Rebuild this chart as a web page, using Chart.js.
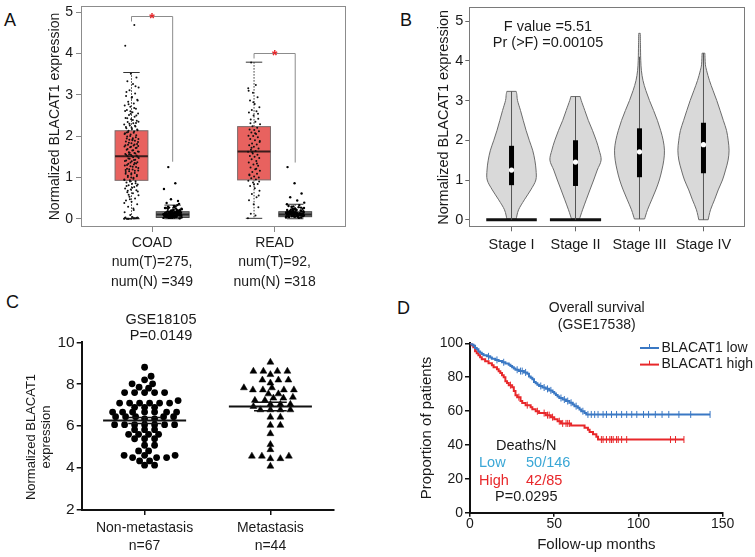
<!DOCTYPE html>
<html>
<head>
<meta charset="utf-8">
<title>BLACAT1 expression</title>
<script src="https://cdn.jsdelivr.net/npm/chart.js@4.4.1/dist/chart.umd.min.js"></script>
<style>
  html, body { margin: 0; padding: 0; background: #fff; }
  body { position: relative; width: 755px; height: 557px; overflow: hidden; font-family: "Liberation Sans", Arial, sans-serif; }
  canvas { position: absolute; }
  .panel { position: absolute; font-size: 18px; line-height: 1; color: #111; }
</style>
</head>
<body>
<div class="panel" style="left:4px;top:11px">A</div>
<div class="panel" style="left:400px;top:11px">B</div>
<div class="panel" style="left:6px;top:293px">C</div>
<div class="panel" style="left:397px;top:299px">D</div>
<canvas id="chartA" width="370" height="300" style="left:0;top:0"></canvas>
<canvas id="chartB" width="375" height="300" style="left:380px;top:0"></canvas>
<canvas id="chartC" width="370" height="277" style="left:0;top:280px"></canvas>
<canvas id="chartD" width="375" height="277" style="left:380px;top:280px"></canvas>
<script>
Chart.defaults.font.family = '"Liberation Sans", Arial, Helvetica, sans-serif';
Chart.defaults.color = '#1a1a1a';
var FONT = '"Liberation Sans", Arial, Helvetica, sans-serif';

// ---------- A: tumour vs normal (GEPIA) ----------
var cancersA = ['COAD', 'READ'];
var numT = [275, 92];
var numN = [349, 318];
var tumorLo = [0.0, 0.01];
var tumorQ1 = [0.93, 0.94];
var tumorMed = [1.51, 1.63];
var tumorQ3 = [2.13, 2.23];
var tumorHi = [3.54, 3.79];
var normalLo = [0.0, 0.0];
var normalQ1 = [0.03, 0.05];
var normalMed = [0.1, 0.1];
var normalQ3 = [0.17, 0.17];
var normalHi = [0.33, 0.35];
var bracketTop = [4.92, 4.02];
var bracketEnd = [1.38, 1.36];

var coadTumor = [0.00, 0.01, 0.00, 0.02, 0.00, 0.03, 0.01, 0.00, 0.02, 0.04, 0.00, 0.01,
  0.09, 0.16, 0.21, 0.29, 0.35, 0.41, 0.44, 0.49,
  0.53, 0.57, 0.62, 0.64, 0.69, 0.71, 0.73, 0.77, 0.81, 0.83, 0.85, 0.88, 0.91, 0.93, 0.95, 0.97,
  1.01, 1.03, 1.07, 1.09, 1.11, 1.15, 1.17, 1.19, 1.21, 1.25, 1.27, 1.29, 1.31, 1.33, 1.37, 1.39, 1.41, 1.43, 1.45, 1.47, 1.49,
  1.51, 1.53, 1.55, 1.57, 1.59, 1.61, 1.63, 1.65, 1.67, 1.71, 1.73, 1.75, 1.77, 1.79, 1.81, 1.83, 1.87, 1.89, 1.91, 1.93, 1.95, 1.99,
  2.02, 2.04, 2.07, 2.11, 2.13, 2.14, 2.17, 2.19, 2.23, 2.26, 2.28, 2.31, 2.34, 2.37, 2.41, 2.44, 2.47,
  2.51, 2.55, 2.58, 2.63, 2.66, 2.71, 2.74, 2.79, 2.83, 2.88, 2.93, 2.97,
  3.03, 3.11, 3.18, 3.26, 3.33, 3.42, 3.51, 4.19, 4.69,
  0.58, 0.66, 0.75, 0.79, 0.86, 0.9, 0.94, 0.99, 1.04, 1.06, 1.1, 1.13, 1.16, 1.2, 1.23, 1.26, 1.3, 1.34, 1.36, 1.4,
  1.42, 1.46, 1.5, 1.52, 1.54, 1.58, 1.6, 1.62, 1.66, 1.69, 1.72, 1.74, 1.78, 1.8, 1.84, 1.86, 1.9, 1.94, 1.97, 2.0,
  2.05, 2.08, 2.1, 2.16, 2.2, 2.22, 2.25, 2.3, 2.35, 2.39, 2.43, 2.5, 2.54, 2.61, 2.68, 2.77, 2.86, 2.95, 3.07, 3.21,
  0.47, 0.38, 0.25, 0.68, 0.8, 1.0, 1.18, 1.35, 1.56, 1.76, 1.92, 2.09, 2.32, 2.6, 0.02, 0.01, 0.0, 0.03];
var coadNormal = [0.02, 0.05, 0.08, 0.11, 0.03, 0.14, 0.06, 0.17, 0.09, 0.12, 0.04, 0.19, 0.07, 0.1, 0.15, 0.13, 0.21, 0.05,
  0.08, 0.16, 0.11, 0.24, 0.03, 0.09, 0.13, 0.18, 0.06, 0.12, 0.27, 0.1, 0.07, 0.15, 0.2, 0.04, 0.11, 0.14, 0.29, 0.08,
  0.17, 0.05, 0.22, 0.12, 0.09, 0.31, 0.06, 0.16, 0.13, 0.1, 0.25, 0.02, 0.19, 0.07, 0.14, 0.33, 0.11, 0.23, 0.08, 0.18,
  0.36, 0.12, 0.26, 0.04, 0.15, 0.09, 0.21, 0.38, 0.43, 0.47, 0.72, 0.86, 1.25,
  0.01, 0.06, 0.1, 0.13, 0.02, 0.07, 0.16, 0.04, 0.11, 0.19, 0.08, 0.14, 0.03, 0.12, 0.22, 0.05, 0.09, 0.17, 0.11,
  0.06, 0.24, 0.13, 0.02, 0.1, 0.18, 0.07, 0.15, 0.28, 0.04, 0.12, 0.2, 0.09, 0.3, 0.05, 0.14, 0.08, 0.26, 0.11, 0.16, 0.03];
var readTumor = [0.01, 0.08, 0.12, 0.28, 0.35, 0.45, 0.52, 0.6, 0.68, 0.74, 0.79, 0.84, 0.88, 0.92, 0.95, 0.98, 1.0, 1.02,
  1.05, 1.09, 1.13, 1.16, 1.2, 1.24, 1.28, 1.31, 1.36, 1.4, 1.44, 1.47, 1.5, 1.52, 1.55, 1.58, 1.62, 1.64, 1.67, 1.7,
  1.74, 1.78, 1.8, 1.82, 1.86, 1.9, 1.93, 1.97, 2.0, 2.01, 2.05, 2.09, 2.12, 2.15, 2.16, 2.2, 2.24, 2.29, 2.35, 2.4,
  2.42, 2.5, 2.57, 2.6, 2.63, 2.7, 2.78, 2.86, 2.94, 3.05, 3.16, 3.24, 3.78,
  0.56, 0.83, 1.07, 1.34, 1.61, 1.88, 2.07, 2.31, 2.54, 2.82, 3.1, 1.21, 1.72, 0.9];
var readNormal = [0.03, 0.07, 0.1, 0.13, 0.05, 0.16, 0.09, 0.12, 0.18, 0.06, 0.11, 0.2, 0.08, 0.14, 0.04, 0.17, 0.1, 0.23,
  0.07, 0.13, 0.15, 0.26, 0.09, 0.12, 0.19, 0.05, 0.11, 0.28, 0.14, 0.08, 0.22, 0.16, 0.1, 0.3, 0.06, 0.13, 0.18, 0.09,
  0.25, 0.12, 0.33, 0.07, 0.15, 0.21, 0.11, 0.27, 0.14, 0.35, 0.08, 0.17, 0.24, 0.1, 0.31, 0.13, 0.2, 0.39, 0.44, 0.52,
  0.61, 0.86, 1.25,
  0.02, 0.06, 0.11, 0.15, 0.04, 0.09, 0.19, 0.13, 0.07, 0.22, 0.1, 0.16, 0.05, 0.12, 0.25, 0.08, 0.14, 0.18, 0.03,
  0.11, 0.21, 0.09, 0.29, 0.06, 0.13, 0.17, 0.1, 0.23, 0.15, 0.08];

// ---------- B: stage violins ----------
var stages = ['Stage I', 'Stage II', 'Stage III', 'Stage IV'];
var stageQ1 = [0.87, 0.85, 1.07, 1.17];
var stageMed = [1.25, 1.45, 1.71, 1.89];
var stageQ3 = [1.86, 2.0, 2.3, 2.44];
var stageMin = [0, 0, 0.02, 0];
var stageMax = [3.23, 3.1, 4.1, 4.19];
var zeroSpike = [0.395, 0.4, 0, 0];
var violinY1 = [0.02, 0.25, 0.5, 0.75, 1.0, 1.25, 1.5, 1.75, 2.0, 2.25, 2.5, 2.75, 3.0, 3.15, 3.23];
var violinW1 = [0.073, 0.11, 0.2, 0.3, 0.38, 0.383, 0.364, 0.33, 0.277, 0.227, 0.183, 0.14, 0.094, 0.083, 0.073];
var violinY2 = [0.02, 0.25, 0.5, 0.75, 1.0, 1.25, 1.5, 1.75, 2.0, 2.25, 2.5, 2.75, 3.0, 3.1];
var violinW2 = [0.0625, 0.11, 0.167, 0.225, 0.284, 0.34, 0.4, 0.37, 0.323, 0.265, 0.2, 0.145, 0.09, 0.073];
var violinY3 = [0.02, 0.25, 0.5, 0.75, 1.0, 1.25, 1.5, 1.75, 2.0, 2.25, 2.5, 2.75, 3.0, 3.25, 3.5, 3.75, 4.0, 4.3, 4.69];
var violinW3 = [0.08, 0.125, 0.19, 0.255, 0.31, 0.35, 0.38, 0.39, 0.37, 0.33, 0.28, 0.22, 0.156, 0.1, 0.055, 0.03, 0.02, 0.016, 0.012];
var violinY4 = [0.0, 0.25, 0.5, 0.75, 1.0, 1.25, 1.5, 1.75, 2.0, 2.25, 2.5, 2.75, 3.0, 3.25, 3.5, 3.75, 3.9, 4.05, 4.19];
var violinW4 = [0.073, 0.11, 0.172, 0.23, 0.297, 0.345, 0.385, 0.4, 0.386, 0.36, 0.31, 0.26, 0.208, 0.15, 0.094, 0.05, 0.03, 0.025, 0.022];

// ---------- C: metastasis scatter ----------
var groupsC = ['Non-metastasis', 'Metastasis'];
var nonMet = [8.81, 8.38, 8.21, 8.02, 8.02, 7.86, 7.81, 7.6, 7.6, 7.6, 7.6, 7.6, 7.22,
  7.1, 7.1, 7.1, 7.1, 7.1, 7.1, 6.9, 6.9, 6.9, 6.67, 6.67, 6.67, 6.67, 6.67, 6.67, 6.67,
  6.45, 6.45, 6.45, 6.45, 6.45, 6.35, 6.35, 6.07, 6.07, 6.07, 6.07, 6.07, 6.07, 6.07,
  5.83, 5.83, 5.83, 5.61, 5.61, 5.61, 5.61, 5.4, 5.4, 5.4, 5.09, 5.09, 4.82, 4.82,
  4.61, 4.61, 4.61, 4.5, 4.5, 4.5, 4.34, 4.34, 4.14, 4.14];
var met = [9.05, 8.62, 8.62, 8.62, 8.62, 8.46, 8.2, 8.2, 8.2, 8.06, 7.83, 7.83, 7.73, 7.73, 7.73, 7.73,
  7.54, 7.54, 7.38, 7.34, 7.34, 7.23, 7.23, 7.04, 7.04, 7.04, 6.94, 6.78, 6.78, 6.78, 6.78,
  6.43, 6.43, 6.04, 6.04, 5.64, 5.12, 4.88, 4.57, 4.57, 4.57, 4.45, 4.45, 4.09];

// ---------- D: Kaplan-Meier ----------
var lowT = [0, 1, 2, 3, 4, 5, 6, 7, 8, 10, 12, 13, 15, 17, 19, 21, 23, 24, 25, 26, 27, 29, 32, 34, 35, 36, 37, 38, 39,
  40, 41, 43, 45, 47, 49, 50, 51, 52, 53, 55, 57, 59, 61, 62, 64, 65, 66, 68, 69, 142.5];
var lowS = [100, 99.3, 98.6, 97.2, 96.5, 95.1, 94.4, 93.7, 93.0, 92.3, 91.6, 90.9, 90.2, 89.5, 88.8, 88.1, 87.3, 86.6,
  85.9, 85.1, 84.4, 83.6, 82.8, 82.0, 80.4, 79.6, 78.8, 77.2, 76.4, 75.6, 74.8, 73.9, 73.1, 72.2, 71.3, 70.4, 69.5,
  68.6, 67.7, 66.8, 65.9, 64.9, 63.9, 62.9, 61.9, 60.9, 59.9, 58.9, 58.0, 58.0];
var highT = [0, 1, 2, 3, 4, 5, 6, 7, 9, 11, 13, 14, 16, 17, 18, 19, 20, 21, 22, 23, 25, 26, 27, 28, 30, 31, 33, 36, 37,
  39, 41, 45, 48, 50, 52, 54, 60, 68, 70, 71, 73, 75, 76, 127];
var highS = [100, 98.8, 97.6, 95.3, 94.1, 92.9, 91.8, 90.6, 89.4, 88.2, 87.1, 85.9, 84.7, 83.5, 82.4, 81.2, 80.0, 77.6,
  76.5, 75.3, 74.1, 71.8, 69.4, 68.2, 65.9, 64.7, 63.5, 62.3, 61.1, 59.9, 58.8, 57.6, 56.4, 55.2, 54.0, 52.7, 51.5,
  50.2, 48.9, 47.6, 46.3, 44.9, 43.2, 43.2];
var lowCensor = [11, 16, 20, 28, 30, 31, 33, 42, 44, 46, 48, 54, 56, 58, 60, 63, 67, 70, 72, 74, 76, 79, 81, 84, 87,
  90, 93, 96, 99, 103, 106, 110, 114, 118, 124, 131, 142.5];
var highCensor = [24, 29, 34, 40, 44, 46, 47, 49, 53, 55, 57, 58, 59, 78, 79, 81, 83, 84, 85, 87, 88, 90, 93, 119, 122, 127];

// ---------- helpers ----------
function fixY(w) { return function (s) { s.width = w; s.paddingTop = 0; s.paddingBottom = 0; }; }
function fixX(h) { return function (s) { s.height = h; s.paddingLeft = 0; s.paddingRight = 0; }; }
function seg(ctx, x1, y1, x2, y2) { ctx.beginPath(); ctx.moveTo(x1, y1); ctx.lineTo(x2, y2); ctx.stroke(); }

function frame(color) {
  return {
    id: 'frame',
    afterDraw: function (chart) {
      var a = chart.chartArea, ctx = chart.ctx;
      ctx.save();
      ctx.strokeStyle = color;
      ctx.lineWidth = 1;
      ctx.strokeRect(Math.round(a.left) + 0.5, Math.round(a.top) + 0.5, Math.round(a.width) - 1, Math.round(a.height) - 1);
      ctx.restore();
    }
  };
}

function notes(items) {
  return {
    id: 'notes',
    afterDraw: function (chart) {
      var ctx = chart.ctx;
      items.forEach(function (t) {
        ctx.save();
        ctx.font = (t.size || 14) + 'px ' + FONT;
        ctx.fillStyle = t.color || '#1a1a1a';
        ctx.textAlign = t.align || 'center';
        ctx.textBaseline = 'middle';
        ctx.translate(t.x, t.y);
        if (t.rot) ctx.rotate(t.rot);
        ctx.fillText(t.text, 0, 0);
        ctx.restore();
      });
    }
  };
}

// spread the dots sideways so the cloud is visible
function jitter(vals, centre, spread) {
  return vals.map(function (v, i) {
    var f = (i * 0.6180339887) % 1;
    return { x: centre + (f - 0.5) * 2 * spread, y: v };
  });
}

// simple beeswarm: nearest free horizontal slot in pixels
function swarm(vals, centre, pxX, pxY, minDist) {
  var placed = [];
  var order = vals.map(function (v, i) { return i; }).sort(function (a, b) { return vals[a] - vals[b]; });
  var out = [];
  order.forEach(function (i) {
    var yp = vals[i] * pxY, xp = 0;
    for (var k = 0; k < 400; k++) {
      var off = (k % 2 ? 1 : -1) * Math.ceil(k / 2) * 0.5;
      var ok = placed.every(function (p) {
        var dx = p[0] - off, dy = (p[1] - yp) * 2;
        return dx * dx + dy * dy >= minDist * minDist;
      });
      if (ok) { xp = off; break; }
    }
    placed.push([xp, yp]);
    out.push({ x: centre + xp / pxX, y: vals[i] });
  });
  return out;
}

function survAt(times, surv, t) {
  var s = surv[0];
  for (var i = 0; i < times.length; i++) { if (times[i] <= t) s = surv[i]; }
  return s;
}

function smoothThrough(ctx, pts) {
  for (var i = 0; i < pts.length - 1; i++) {
    var p0 = pts[i - 1] || pts[i], p1 = pts[i], p2 = pts[i + 1], p3 = pts[i + 2] || p2;
    ctx.bezierCurveTo(p1[0] + (p2[0] - p0[0]) / 6, p1[1] + (p2[1] - p0[1]) / 6,
      p2[0] - (p3[0] - p1[0]) / 6, p2[1] - (p3[1] - p1[1]) / 6, p2[0], p2[1]);
  }
}

// ---------- chart A ----------
var SHIFT = 0.168, HALF = 0.134;

function drawBox(ctx, x, y, c, stats, fill, stroke, medColor) {
  var l = x.getPixelForValue(c - HALF), r = x.getPixelForValue(c + HALF), m = x.getPixelForValue(c);
  var cl = x.getPixelForValue(c - HALF / 2), cr = x.getPixelForValue(c + HALF / 2);
  var p = stats.map(function (v) { return y.getPixelForValue(v); });
  ctx.save();
  ctx.strokeStyle = '#333';
  ctx.lineWidth = 1;
  ctx.setLineDash([1.5, 1.5]);
  seg(ctx, m, p[3], m, p[4]);
  seg(ctx, m, p[1], m, p[0]);
  ctx.setLineDash([]);
  seg(ctx, cl, p[4], cr, p[4]);
  seg(ctx, cl, p[0], cr, p[0]);
  ctx.fillStyle = fill;
  ctx.fillRect(l, p[3], r - l, p[1] - p[3]);
  ctx.strokeStyle = stroke;
  ctx.strokeRect(l, p[3], r - l, p[1] - p[3]);
  ctx.strokeStyle = medColor;
  ctx.lineWidth = 2;
  seg(ctx, l, p[2], r, p[2]);
  ctx.restore();
}

var boxesA = {
  id: 'boxesA',
  beforeDatasetsDraw: function (chart) {
    var ctx = chart.ctx, x = chart.scales.x, y = chart.scales.y;
    cancersA.forEach(function (c, i) {
      drawBox(ctx, x, y, i + 1 - SHIFT, [tumorLo[i], tumorQ1[i], tumorMed[i], tumorQ3[i], tumorHi[i]], '#e8625f', '#7b6a6a', '#3b1c1c');
      drawBox(ctx, x, y, i + 1 + SHIFT, [normalLo[i], normalQ1[i], normalMed[i], normalQ3[i], normalHi[i]], '#7a7a7a', '#474747', '#2a2a2a');
    });
  },
  afterDatasetsDraw: function (chart) {
    var ctx = chart.ctx, x = chart.scales.x, y = chart.scales.y;
    cancersA.forEach(function (c, i) {
      var xl = x.getPixelForValue(i + 1 - SHIFT), xr = x.getPixelForValue(i + 1 + SHIFT);
      var yt = Math.round(y.getPixelForValue(bracketTop[i])) + 0.5, yb = y.getPixelForValue(bracketEnd[i]);
      ctx.save();
      ctx.strokeStyle = '#8c8c8c';
      ctx.lineWidth = 1;
      ctx.beginPath();
      ctx.moveTo(xl, yt + 5); ctx.lineTo(xl, yt); ctx.lineTo(xr, yt); ctx.lineTo(xr, yb);
      ctx.stroke();
      ctx.fillStyle = '#e8262a';
      ctx.font = 'bold 14px ' + FONT;
      ctx.textAlign = 'center';
      ctx.textBaseline = 'middle';
      ctx.fillText('*', (xl + xr) / 2, yt + 3);
      ctx.restore();
    });
  }
};

var dotT = { pointRadius: 1, pointBackgroundColor: '#111', pointBorderWidth: 0 };
var dotN = { pointRadius: 1.2, pointBackgroundColor: '#000', pointBorderWidth: 0 };
new Chart(document.getElementById('chartA'), {
  type: 'scatter',
  data: {
    datasets: [
      Object.assign({ label: 'COAD tumour', data: jitter(coadTumor, 1 - SHIFT, 0.06) }, dotT),
      Object.assign({ label: 'COAD normal', data: jitter(coadNormal, 1 + SHIFT, 0.075) }, dotN),
      Object.assign({ label: 'READ tumour', data: jitter(readTumor, 2 - SHIFT, 0.05) }, dotT),
      Object.assign({ label: 'READ normal', data: jitter(readNormal, 2 + SHIFT, 0.075) }, dotN)
    ]
  },
  options: {
    responsive: false,
    animation: false,
    layout: { padding: { left: 47, top: 6, right: 24.3, bottom: 0 } },
    plugins: { legend: { display: false }, tooltip: { enabled: false } },
    scales: {
      x: {
        type: 'linear', min: 0.42, max: 2.58,
        afterBuildTicks: function (s) { s.ticks = cancersA.map(function (c, i) { return { value: i + 1 }; }); },
        ticks: {
          autoSkip: false, maxRotation: 0, padding: 1,
          font: { size: 14, lineHeight: 1.4 },
          callback: function (v, i) { return [cancersA[i], 'num(T)=' + numT[i] + ',', 'num(N) =' + numN[i]]; }
        },
        grid: { drawOnChartArea: false, tickLength: 5, tickColor: '#888' },
        border: { display: false },
        afterFit: fixX(73)
      },
      y: {
        min: -0.2, max: 5.15,
        ticks: { stepSize: 1, includeBounds: false, padding: 3, font: { size: 14 } },
        grid: { drawOnChartArea: false, tickLength: 5, tickColor: '#888' },
        border: { display: false },
        title: { display: true, text: 'Normalized BLACAT1 expression', font: { size: 14 }, padding: { top: 0, bottom: 0 } },
        afterFit: fixY(34)
      }
    }
  },
  plugins: [boxesA, frame('#8c8c8c')]
});

// ---------- chart B ----------
var violinYs = [violinY1, violinY2, violinY3, violinY4];
var violinWs = [violinW1, violinW2, violinW3, violinW4];

var violinsB = {
  id: 'violinsB',
  beforeDatasetsDraw: function (chart) {
    var ctx = chart.ctx, x = chart.scales.x, y = chart.scales.y;
    stages.forEach(function (s, i) {
      var c = i + 1, lv = violinYs[i], wd = violinWs[i];
      var right = lv.map(function (v, k) { return [x.getPixelForValue(c + wd[k]), y.getPixelForValue(v)]; });
      var left = lv.map(function (v, k) { return [x.getPixelForValue(c - wd[k]), y.getPixelForValue(v)]; }).reverse();
      ctx.save();
      ctx.beginPath();
      ctx.moveTo(left[left.length - 1][0], left[left.length - 1][1]);
      ctx.lineTo(right[0][0], right[0][1]);
      smoothThrough(ctx, right);
      ctx.lineTo(left[0][0], left[0][1]);
      smoothThrough(ctx, left);
      ctx.closePath();
      ctx.fillStyle = '#d9d9d9';
      ctx.fill();
      ctx.strokeStyle = '#6b6b6b';
      ctx.lineWidth = 1;
      ctx.stroke();
      var cx = x.getPixelForValue(c);
      if (zeroSpike[i] > 0) {
        ctx.strokeStyle = '#111';
        ctx.lineWidth = 3;
        seg(ctx, x.getPixelForValue(c - zeroSpike[i]), y.getPixelForValue(0), x.getPixelForValue(c + zeroSpike[i]), y.getPixelForValue(0));
      }
      ctx.strokeStyle = '#555';
      ctx.lineWidth = 1;
      seg(ctx, cx, y.getPixelForValue(stageMin[i]), cx, y.getPixelForValue(stageMax[i]));
      ctx.fillStyle = '#000';
      var top = y.getPixelForValue(stageQ3[i]), bot = y.getPixelForValue(stageQ1[i]);
      ctx.fillRect(cx - 2.5, top, 5, bot - top);
      ctx.restore();
    });
  }
};

new Chart(document.getElementById('chartB'), {
  type: 'scatter',
  data: {
    datasets: [{
      label: 'median',
      data: stages.map(function (s, i) { return { x: i + 1, y: stageMed[i] }; }),
      pointRadius: 2.6, pointBackgroundColor: '#fff', pointBorderWidth: 0
    }]
  },
  options: {
    responsive: false,
    animation: false,
    layout: { padding: { left: 55.3, top: 7.3, right: 9.3, bottom: 0 } },
    plugins: { legend: { display: false }, tooltip: { enabled: false } },
    scales: {
      x: {
        type: 'linear', min: 0.34, max: 4.66,
        afterBuildTicks: function (s) { s.ticks = stages.map(function (c, i) { return { value: i + 1 }; }); },
        ticks: { autoSkip: false, maxRotation: 0, padding: 5, font: { size: 14.5 },
          callback: function (v, i) { return stages[i]; } },
        grid: { drawOnChartArea: false, tickLength: 4, tickColor: '#666' },
        border: { display: false },
        afterFit: fixX(72.7)
      },
      y: {
        min: -0.19, max: 5.345,
        ticks: { stepSize: 1, includeBounds: false, padding: 2, font: { size: 14.5 } },
        grid: { drawOnChartArea: false, tickLength: 4, tickColor: '#666' },
        border: { display: false },
        title: { display: true, text: 'Normalized BLACAT1 expression', font: { size: 14.5 }, padding: { top: 0, bottom: 0 } },
        afterFit: fixY(34)
      }
    }
  },
  plugins: [violinsB, frame('#7a7a7a'), notes([
    { text: 'F value =5.51', x: 168, y: 27, size: 14.5 },
    { text: 'Pr (>F) =0.00105', x: 168, y: 43, size: 14.5 }
  ])]
});

// ---------- chart C ----------
var PX_X = 251.6 / 2, PX_Y = 167.7 / 8;

function meanSem(v) {
  var m = v.reduce(function (a, b) { return a + b; }, 0) / v.length;
  var sd = Math.sqrt(v.reduce(function (a, b) { return a + (b - m) * (b - m); }, 0) / (v.length - 1));
  return [m, sd / Math.sqrt(v.length)];
}

var meanC = {
  id: 'meanC',
  afterDatasetsDraw: function (chart) {
    var ctx = chart.ctx, x = chart.scales.x, y = chart.scales.y;
    [nonMet, met].forEach(function (v, i) {
      var ms = meanSem(v);
      ctx.save();
      ctx.strokeStyle = '#111';
      ctx.lineWidth = 2;
      seg(ctx, x.getPixelForValue(i - 0.33), y.getPixelForValue(ms[0]), x.getPixelForValue(i + 0.33), y.getPixelForValue(ms[0]));
      ctx.lineWidth = 1.5;
      [ms[0] - ms[1], ms[0] + ms[1]].forEach(function (e) {
        seg(ctx, x.getPixelForValue(i - 0.13), y.getPixelForValue(e), x.getPixelForValue(i + 0.13), y.getPixelForValue(e));
      });
      seg(ctx, x.getPixelForValue(i), y.getPixelForValue(ms[0] - ms[1]), x.getPixelForValue(i), y.getPixelForValue(ms[0] + ms[1]));
      ctx.restore();
    });
  }
};

new Chart(document.getElementById('chartC'), {
  type: 'scatter',
  data: {
    datasets: [
      { label: groupsC[0], data: swarm(nonMet, 0, PX_X, PX_Y, 9.6), pointStyle: 'circle', pointRadius: 3.4,
        pointBackgroundColor: '#000', pointBorderWidth: 0 },
      { label: groupsC[1], data: swarm(met, 1, PX_X, PX_Y, 9.6), pointStyle: 'triangle', pointRadius: 4,
        pointBackgroundColor: '#000', pointBorderColor: '#000', pointBorderWidth: 0.5 }
    ]
  },
  options: {
    responsive: false,
    animation: false,
    layout: { padding: { left: 23.2, top: 62.3, right: 36.7, bottom: 0 } },
    plugins: { legend: { display: false }, tooltip: { enabled: false } },
    scales: {
      x: {
        type: 'linear', min: -0.5, max: 1.5,
        afterBuildTicks: function (s) { s.ticks = groupsC.map(function (c, i) { return { value: i }; }); },
        ticks: { autoSkip: false, maxRotation: 0, padding: 4, font: { size: 14, lineHeight: 1.3 },
          callback: function (v, i) { return [groupsC[i], 'n=' + [nonMet, met][i].length]; } },
        grid: { drawOnChartArea: false, tickLength: 5, tickColor: '#111', lineWidth: 1.5 },
        border: { display: true, color: '#111', width: 2 },
        afterFit: fixX(47)
      },
      y: {
        min: 2, max: 10,
        ticks: { stepSize: 2, padding: 2, font: { size: 15.5 } },
        grid: { drawOnChartArea: false, tickLength: 5, tickColor: '#111', lineWidth: 1.5 },
        border: { display: true, color: '#111', width: 2 },
        afterFit: fixY(58.5)
      }
    }
  },
  plugins: [meanC, notes([
    { text: 'GSE18105', x: 161, y: 40, size: 14.5 },
    { text: 'P=0.0149', x: 161, y: 56, size: 14.5 },
    { text: 'Normalized BLACAT1', x: 31, y: 157, size: 13, rot: -Math.PI / 2 },
    { text: 'expression', x: 46.6, y: 157, size: 13, rot: -Math.PI / 2 }
  ])]
});

// ---------- chart D ----------
var blue = '#3a78c4', red = '#e8272a';

var legendD = {
  id: 'legendD',
  afterDraw: function (chart) {
    var ctx = chart.ctx;
    [0, 1].forEach(function (i) {
      var ds = chart.data.datasets[i], yy = 68 + i * 16.6;
      ctx.save();
      ctx.strokeStyle = ds.borderColor;
      ctx.lineWidth = 2;
      seg(ctx, 260, yy, 279, yy);
      ctx.lineWidth = 1;
      seg(ctx, 269.5, yy - 4, 269.5, yy);
      ctx.fillStyle = '#1a1a1a';
      ctx.font = '14px ' + FONT;
      ctx.textAlign = 'left';
      ctx.textBaseline = 'middle';
      ctx.fillText(ds.label, 281.5, yy);
      ctx.restore();
    });
  }
};

function kmPoints(t, s) { return t.map(function (v, i) { return { x: v, y: s[i] }; }); }
function censorPoints(c, t, s) { return c.map(function (v) { return { x: v, y: survAt(t, s, v) }; }); }

new Chart(document.getElementById('chartD'), {
  type: 'scatter',
  data: {
    datasets: [
      { label: 'BLACAT1 low', data: kmPoints(lowT, lowS), showLine: true, stepped: 'before', borderColor: blue,
        borderWidth: 2, pointRadius: 0, fill: false },
      { label: 'BLACAT1 high', data: kmPoints(highT, highS), showLine: true, stepped: 'before', borderColor: red,
        borderWidth: 2, pointRadius: 0, fill: false },
      { label: 'low censored', data: censorPoints(lowCensor, lowT, lowS), pointStyle: 'line', rotation: 90,
        pointRadius: 3.5, pointBorderColor: blue, pointBorderWidth: 1 },
      { label: 'high censored', data: censorPoints(highCensor, highT, highS), pointStyle: 'line', rotation: 90,
        pointRadius: 3.5, pointBorderColor: red, pointBorderWidth: 1 }
    ]
  },
  options: {
    responsive: false,
    animation: false,
    layout: { padding: { left: 38, top: 63.3, right: 32.3, bottom: 0 } },
    plugins: { legend: { display: false }, tooltip: { enabled: false } },
    scales: {
      x: {
        type: 'linear', min: 0, max: 150,
        ticks: { stepSize: 50, padding: 0, font: { size: 14, lineHeight: 1.1 } },
        grid: { drawOnChartArea: false, tickLength: 4, tickColor: '#111', lineWidth: 1.5 },
        border: { display: true, color: '#111', width: 2 },
        title: { display: true, text: 'Follow-up months', font: { size: 15 }, padding: { top: 0, bottom: 3 } },
        afterFit: fixX(44.3)
      },
      y: {
        min: 0, max: 100,
        ticks: { stepSize: 20, padding: 2, font: { size: 14 } },
        grid: { drawOnChartArea: false, tickLength: 5, tickColor: '#111', lineWidth: 1.5 },
        border: { display: true, color: '#111', width: 2 },
        title: { display: true, text: 'Proportion of patients', font: { size: 15 }, padding: { top: 0, bottom: 0 } },
        afterFit: fixY(52)
      }
    }
  },
  plugins: [legendD, notes([
    { text: 'Overall survival', x: 216.7, y: 28.3, size: 14 },
    { text: '(GSE17538)', x: 216.7, y: 45, size: 14 },
    { text: 'Deaths/N', x: 116, y: 166, size: 14.5, align: 'left' },
    { text: 'Low', x: 99, y: 183.3, size: 14.5, align: 'left', color: '#3aa7d6' },
    { text: '50/146', x: 146, y: 183.3, size: 14.5, align: 'left', color: '#3aa7d6' },
    { text: 'High', x: 99, y: 200.5, size: 14.5, align: 'left', color: red },
    { text: '42/85', x: 146, y: 200.5, size: 14.5, align: 'left', color: red },
    { text: 'P=0.0295', x: 115, y: 216.5, size: 14.5, align: 'left' }
  ])]
});
</script>
</body>
</html>
